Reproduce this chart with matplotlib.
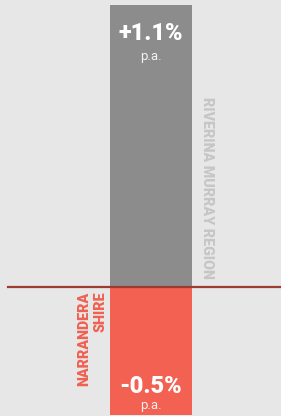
import matplotlib.pyplot as plt

# growth rates, % p.a.
regions = ["RIVERINA MURRAY REGION", "NARRANDERA\nSHIRE"]
growth = [1.1, -0.5]
value_labels = ["+1.1%", "-0.5%"]
bar_colors = ["#8c8c8c", "#f26152"]
name_colors = ["#c6c6c6", "#f06050"]

W, H = 281, 416
fig = plt.figure(figsize=(W / 100, H / 100), dpi=100)
fig.patch.set_facecolor("#e7e7e7")
ax = fig.add_axes([0, 0, 1, 1])
ax.set_facecolor("#e7e7e7")
ax.set_xlim(0, W)
ax.set_ylim(-0.505, 1.12)
ax.axis("off")

# both bars share one column, stacked around zero
for v, c in zip(growth, bar_colors):
    ax.bar(151, v, width=82, color=c, zorder=2)

ax.plot([8, W], [0, 0], color="#9c3b30", lw=1.6, zorder=3)

font = "Roboto"
# value labels inside bars
ax.text(151, 0.99, value_labels[0], ha="center", va="center", color="white",
        fontsize=17, fontweight="black", family=font, zorder=4)
ax.text(151, 0.9, "p.a.", ha="center", va="center", color="#f2f2f2",
        fontsize=9.5, family=font, zorder=4)
ax.text(151, -0.39, value_labels[1], ha="center", va="center", color="white",
        fontsize=17, fontweight="black", family=font, zorder=4)
ax.text(151, -0.465, "p.a.", ha="center", va="center", color="#f2f2f2",
        fontsize=9.5, family=font, zorder=4)

# area names, rotated
ax.text(207, 0.03, regions[0], rotation=-90, ha="center", va="bottom",
        color=name_colors[0], fontsize=10.3, fontweight="black", family=font)
ax.text(92, -0.02, regions[1], rotation=90, ha="center", va="top",
        multialignment="right", linespacing=1.2,
        color=name_colors[1], fontsize=10.3, fontweight="black", family=font)

fig.savefig("out.png", dpi=100, facecolor=fig.get_facecolor())
